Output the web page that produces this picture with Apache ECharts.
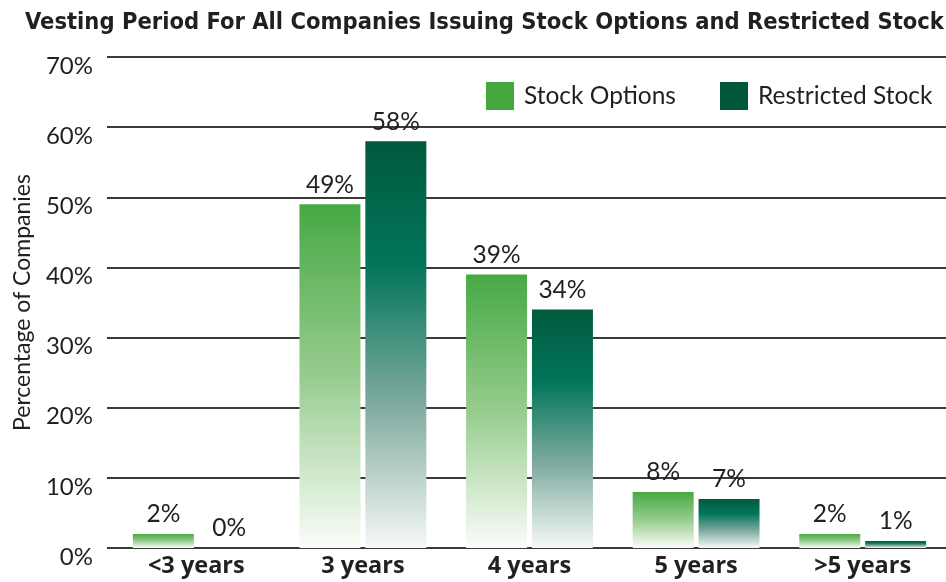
<!DOCTYPE html>
<html>
<head>
<meta charset="utf-8">
<script src="https://cdn.jsdelivr.net/npm/echarts@6/dist/echarts.min.js"></script>
<style>
  html, body { margin: 0; padding: 0; background: #fff; }
  #chart { width: 946px; height: 582px; }
</style>
</head>
<body>
<div id="chart"></div>
<script>
// data
const categories = ['<3 years', '3 years', '4 years', '5 years', '>5 years'];
const stockOptions = [2, 49, 39, 8, 2];
const restrictedStock = [0, 58, 34, 7, 1];
const yTicks = [0, 10, 20, 30, 40, 50, 60, 70];

const FONT = 'Lato, "Open Sans", "DejaVu Sans", sans-serif';
const BOLD_FONT = '"Open Sans", "Noto Sans", sans-serif';
const TXT = '#231f20';

// vertical gradients that fade to white at the bottom of each bar
const greenFill = new echarts.graphic.LinearGradient(0, 0, 0, 1, [
  { offset: 0, color: '#47a943' },
  { offset: 0.5, color: '#97cc8e' },
  { offset: 1, color: '#fbfdfa' }
]);
const darkFill = new echarts.graphic.LinearGradient(0, 0, 0, 1, [
  { offset: 0, color: '#02593e' },
  { offset: 0.3, color: '#017559' },
  { offset: 0.65, color: '#80aba0' },
  { offset: 1, color: '#f6f9f8' }
]);

const chart = echarts.init(document.getElementById('chart'), null, { renderer: 'canvas' });

chart.setOption({
  animation: false,
  title: {
    text: 'Vesting Period For All Companies Issuing Stock Options and Restricted Stock',
    left: 25,
    top: 11,
    padding: 0,
    textStyle: {
      fontFamily: '"DejaVu Sans Condensed", "Liberation Sans Narrow", sans-serif',
      fontWeight: 'bold',
      fontSize: 23.5,
      color: TXT
    }
  },
  legend: {
    top: 77,
    left: 481,
    itemWidth: 28,
    itemHeight: 28,
    itemGap: 44,
    icon: 'rect',
    textStyle: { fontFamily: FONT, fontSize: 24.5, color: TXT, padding: [0, 0, 0, 5] },
    data: [
      { name: 'Stock Options', itemStyle: { color: '#43a83f' } },
      { name: 'Restricted Stock', itemStyle: { color: '#00573b' } }
    ]
  },
  grid: { left: 113, right: 0, top: 57, bottom: 34, containLabel: false },
  xAxis: {
    type: 'category',
    data: categories,
    axisLine: { lineStyle: { color: '#3a3a3a', width: 2 } },
    axisTick: { show: false },
    axisLabel: {
      fontFamily: BOLD_FONT, fontWeight: 'bold', fontSize: 23.5, color: TXT, margin: 6
    }
  },
  yAxis: {
    type: 'value',
    min: yTicks[0],
    max: yTicks[yTicks.length - 1],
    interval: 10,
    name: 'Percentage of Companies',
    nameLocation: 'middle',
    nameGap: 79,
    nameTextStyle: { fontFamily: FONT, fontSize: 23, color: TXT },
    axisLine: { show: false },
    axisTick: { show: true, length: 6, lineStyle: { color: '#3a3a3a', width: 2 } },
    splitLine: { lineStyle: { color: '#3a3a3a', width: 2 } },
    axisLabel: {
      fontFamily: FONT, fontSize: 24, color: TXT, margin: 20,
      verticalAlign: 'top', padding: [-3, 0, 0, 0],
      formatter: v => v + '%'
    }
  },
  series: [
    {
      name: 'Stock Options',
      type: 'bar',
      data: stockOptions,
      barWidth: 61,
      barGap: '8%',
      itemStyle: { color: greenFill },
      label: {
        show: true, position: 'top', distance: 7,
        fontFamily: FONT, fontSize: 24.5, color: TXT,
        formatter: p => p.value + '%'
      }
    },
    {
      name: 'Restricted Stock',
      type: 'bar',
      data: restrictedStock,
      barWidth: 61,
      itemStyle: { color: darkFill },
      label: {
        show: true, position: 'top', distance: 7,
        fontFamily: FONT, fontSize: 24.5, color: TXT,
        formatter: p => p.value + '%'
      }
    }
  ]
});
</script>
</body>
</html>
